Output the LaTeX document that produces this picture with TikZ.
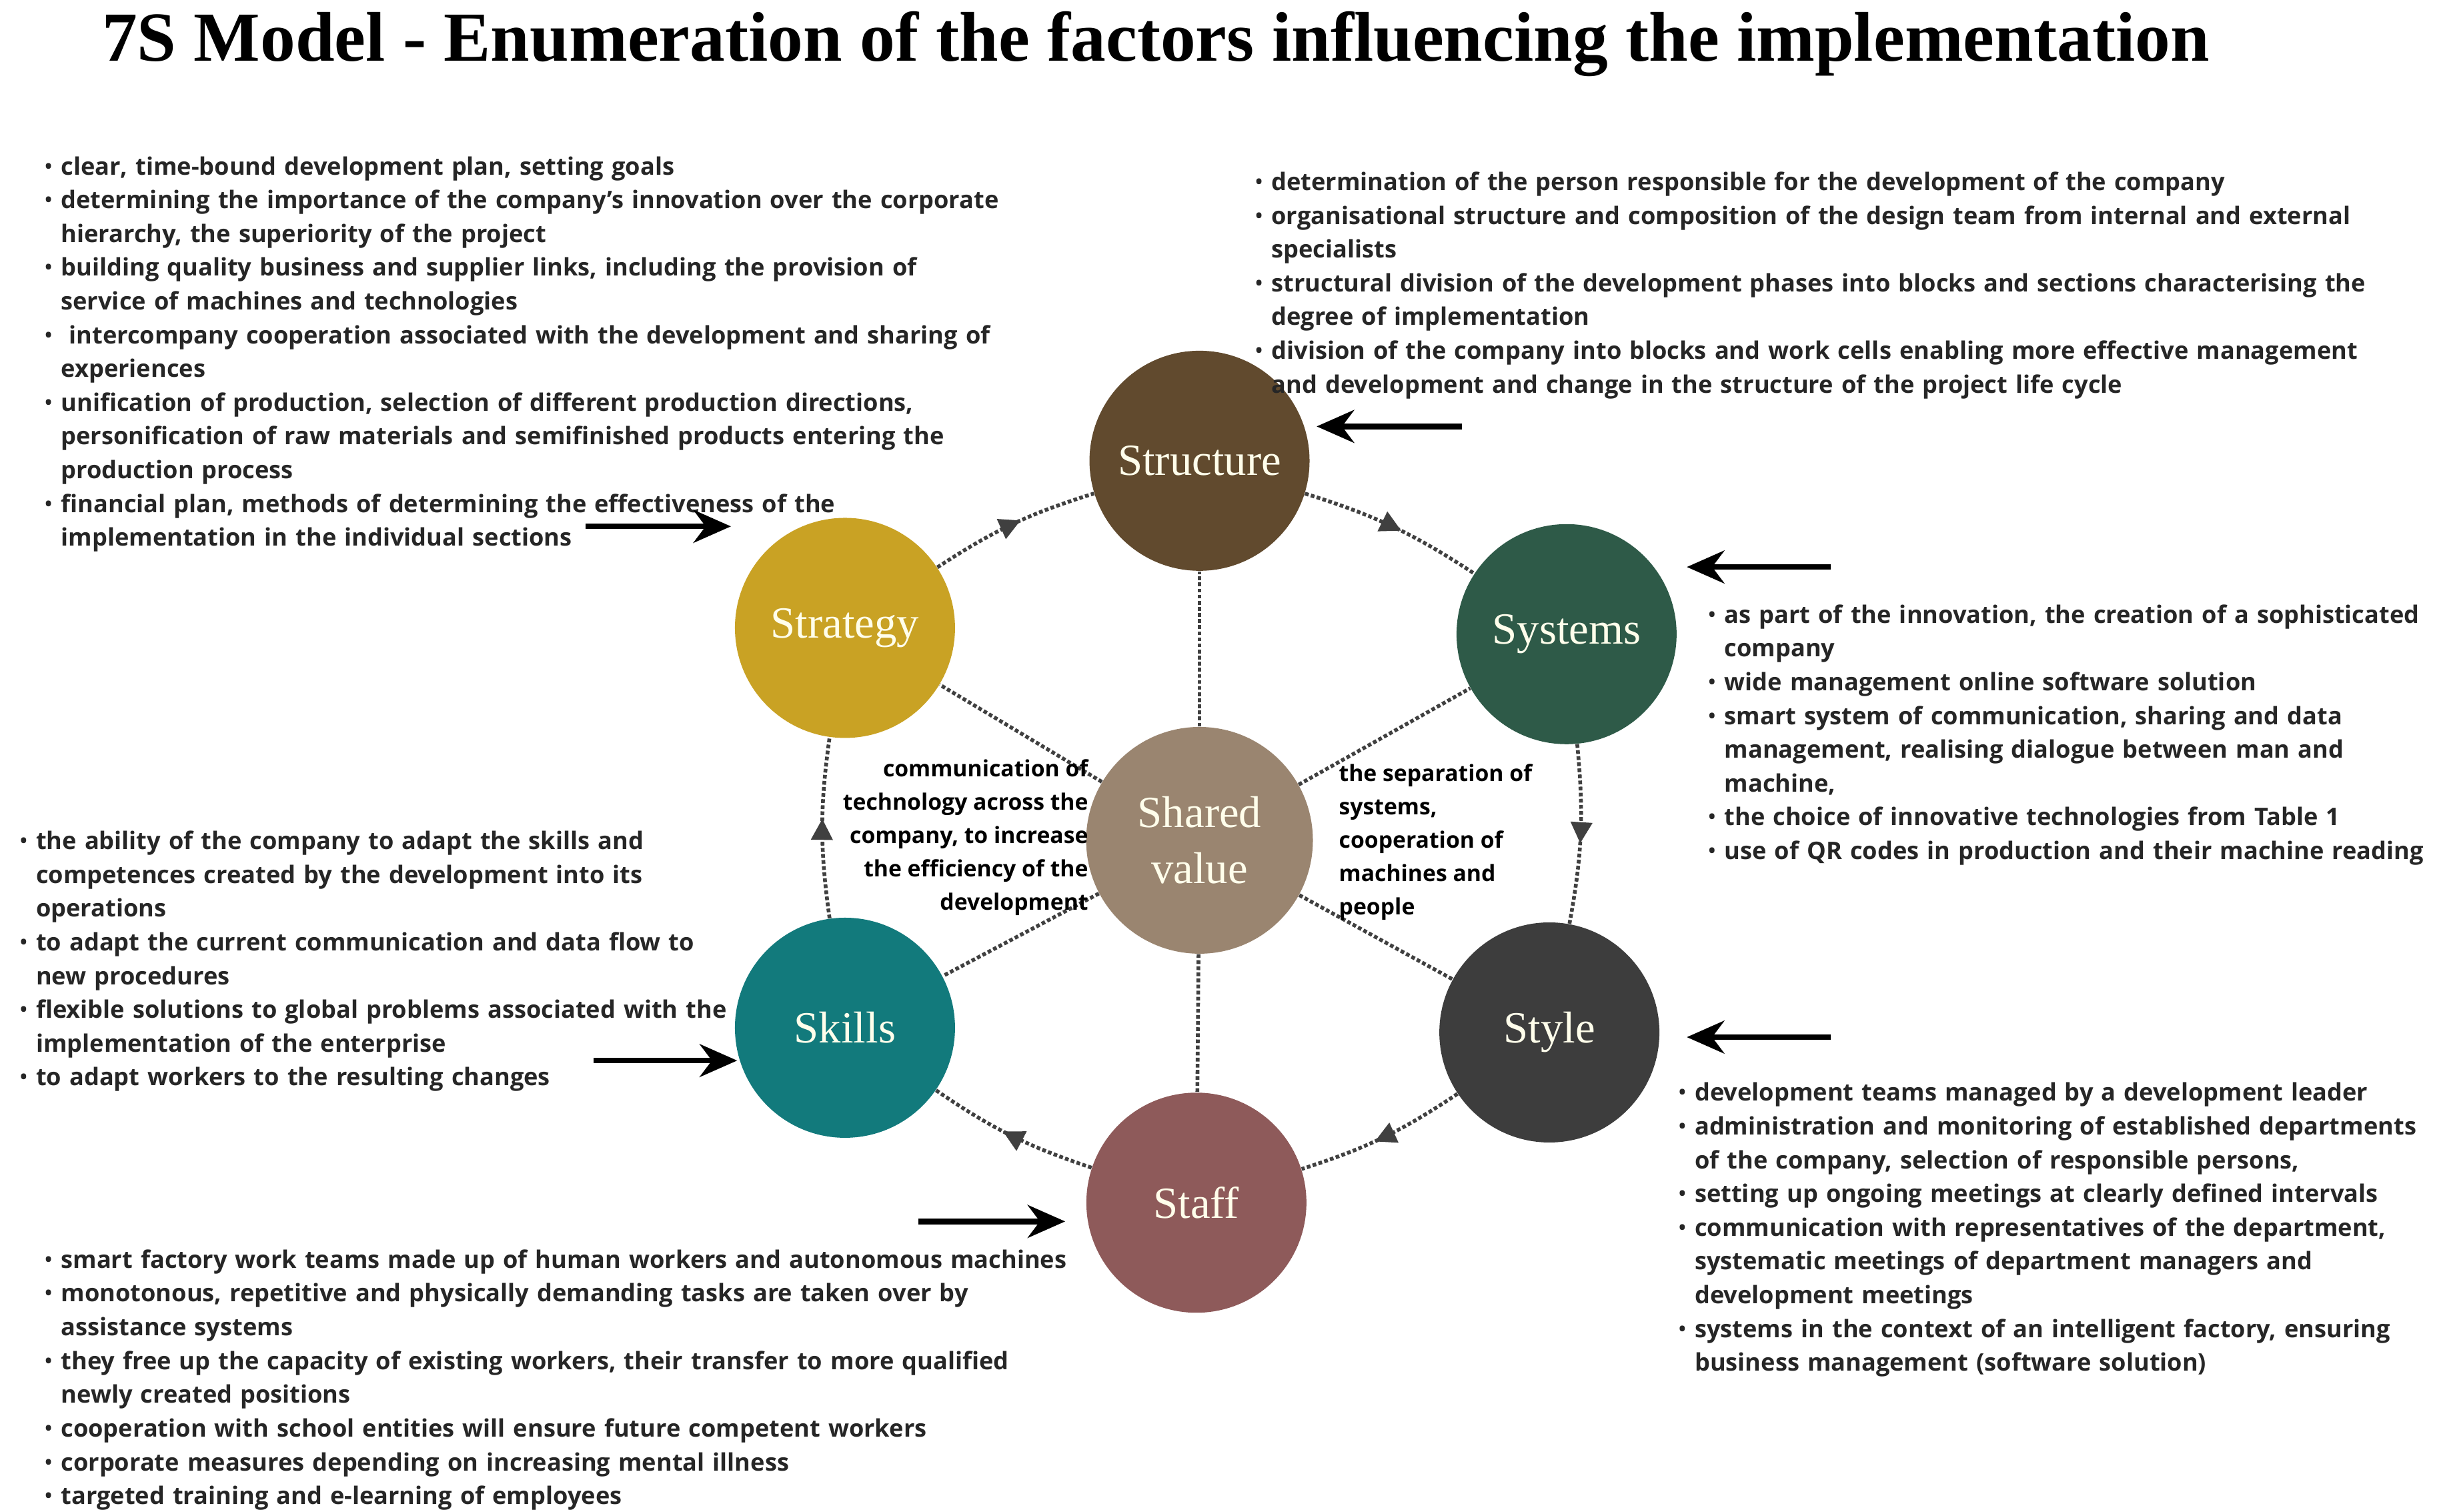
\documentclass[tikz,border=0pt]{standalone}
\usepackage{fontspec}
\setmainfont{Open Sans}
\newfontfamily\serifA{Liberation Serif}
\usepackage{enumitem}
\usetikzlibrary{arrows.meta,decorations.markings}
\setlist[itemize]{leftmargin=0.3cm,labelsep=0.12cm,itemsep=0pt,topsep=0pt,parsep=0pt,partopsep=0pt}
\begin{document}
\begin{tikzpicture}[x=0.02342cm,y=-0.02342cm,
  sev/.style={circle,minimum size=3.3cm,inner sep=0pt,text=white!92!yellow,font=\serifA\fontsize{19}{22}\selectfont,align=center},
  blist/.style={anchor=north west,inner sep=0pt,font=\bfseries\fontsize{10.3}{14.4}\selectfont,text=black!85},
  ring/.style={densely dotted,line width=1.6pt,black!75,postaction={decorate},decoration={markings,mark=at position 0.55 with {\arrow[solid,black!75]{Triangle[length=9pt,width=9pt]}}}},
  spoke/.style={densely dotted,line width=1.6pt,black!75},
  big/.style={-{Stealth[length=16pt,width=14pt]},line width=2.4pt}]
\useasboundingbox (0,0) rectangle (1568,968);
\fill[white] (0,0) rectangle (1568,968);
\node[font=\serifA\bfseries\fontsize{30}{34}\selectfont] (title) at (740,28) {7S Model - Enumeration of the factors influencing the implementation};

\node[sev,fill={rgb,255:red,97;green,74;blue,46}] (st) at (768,295) {Structure};
\node[sev,fill={rgb,255:red,201;green,162;blue,36}] (sg) at (541,402) {Strategy};
\node[sev,fill={rgb,255:red,46;green,90;blue,72}] (sy) at (1003,406) {Systems};
\node[sev,fill={rgb,255:red,18;green,122;blue,124}] (sk) at (541,658) {Skills};
\node[sev,fill={rgb,255:red,61;green,61;blue,61}] (sl) at (992,661) {Style};
\node[sev,fill={rgb,255:red,142;green,90;blue,90}] (sf) at (766,770) {Staff};
\node[sev,fill={rgb,255:red,154;green,133;blue,112},minimum size=3.4cm,font=\serifA\fontsize{19}{24}\selectfont] (sv) at (768,538) {Shared\\value};

\draw[ring] (sg) to[bend left=8] (st);
\draw[ring] (st) to[bend left=8] (sy);
\draw[ring] (sy) to[bend left=8] (sl);
\draw[ring] (sl) to[bend left=8] (sf);
\draw[ring] (sf) to[bend left=8] (sk);
\draw[ring] (sk) to[bend left=8] (sg);
\foreach \n in {st,sg,sy,sk,sl,sf} \draw[spoke] (sv) -- (\n);

\node[anchor=north east,align=right,inner sep=0pt,font=\bfseries\fontsize{9.6}{14.2}\selectfont] (cl) at (697,486) {communication of\\technology across the\\company, to increase\\the efficiency of the\\development};
\node[anchor=north west,align=left,inner sep=0pt,font=\bfseries\fontsize{9.6}{14.2}\selectfont] (cr) at (857,489) {the separation of\\systems,\\cooperation of\\machines and\\people};

\node[blist,text width=14.5cm] (tl) at (26,90) {\raggedright\begin{itemize}
\item clear, time-bound development plan, setting goals
\item determining the importance of the company's innovation over the corporate hierarchy, the superiority of the project
\item building quality business and supplier links, including the provision of\newline service of machines and technologies
\item \ intercompany cooperation associated with the development and sharing of experiences
\item unification of production, selection of different production directions,\newline personification of raw materials and semifinished products entering the\newline production process
\item financial plan, methods of determining the effectiveness of the\newline implementation in the individual sections
\end{itemize}};

\node[blist,text width=17.0cm] (tr) at (801,100) {\begin{itemize}
\item determination of the person responsible for the development of the company
\item organisational structure and composition of the design team from internal and external specialists
\item structural division of the development phases into blocks and sections characterising the degree of implementation
\item division of the company into blocks and work cells enabling more effective management and development and change in the structure of the project life cycle
\end{itemize}};

\node[blist,text width=10.9cm] (mr) at (1091,377) {\begin{itemize}
\item as part of the innovation, the creation of a sophisticated company
\item wide management online software solution
\item smart system of communication, sharing and data management, realising dialogue between man and machine,
\item the choice of innovative technologies from Table 1
\item use of QR codes in production and their machine reading
\end{itemize}};

\node[blist,text width=10.7cm] (ml) at (10,522) {\raggedright\begin{itemize}
\item the ability of the company to adapt the skills and\newline competences created by the development into its\newline operations
\item to adapt the current communication and data flow to\newline new procedures
\item flexible solutions to global problems associated with the implementation of the enterprise
\item to adapt workers to the resulting changes
\end{itemize}};

\node[blist,text width=11.4cm] (br) at (1072,683) {\begin{itemize}
\item development teams managed by a development leader
\item administration and monitoring of established departments of the company, selection of responsible persons,
\item setting up ongoing meetings at clearly defined intervals
\item communication with representatives of the department, systematic meetings of department managers and development meetings
\item systems in the context of an intelligent factory, ensuring business management (software solution)
\end{itemize}};

\node[blist,text width=15.7cm] (bl) at (26,790) {\begin{itemize}
\item smart factory work teams made up of human workers and autonomous machines
\item monotonous, repetitive and physically demanding tasks are taken over by assistance systems
\item they free up the capacity of existing workers, their transfer to more qualified newly created positions
\item cooperation with school entities will ensure future competent workers
\item corporate measures depending on increasing mental illness
\item targeted training and e-learning of employees
\end{itemize}};

\coordinate (a1) at (375,337); \coordinate (a2) at (936,273); \coordinate (a3) at (1172,363);
\coordinate (a4) at (380,679); \coordinate (a5) at (1172,664); \coordinate (a6) at (588,782);
\draw[big] (a1) -- (468,337);
\draw[big] (a2) -- (843,273);
\draw[big] (a3) -- (1080,363);
\draw[big] (a4) -- (472,679);
\draw[big] (a5) -- (1080,664);
\draw[big] (a6) -- (682,782);
\end{tikzpicture}
\end{document}
